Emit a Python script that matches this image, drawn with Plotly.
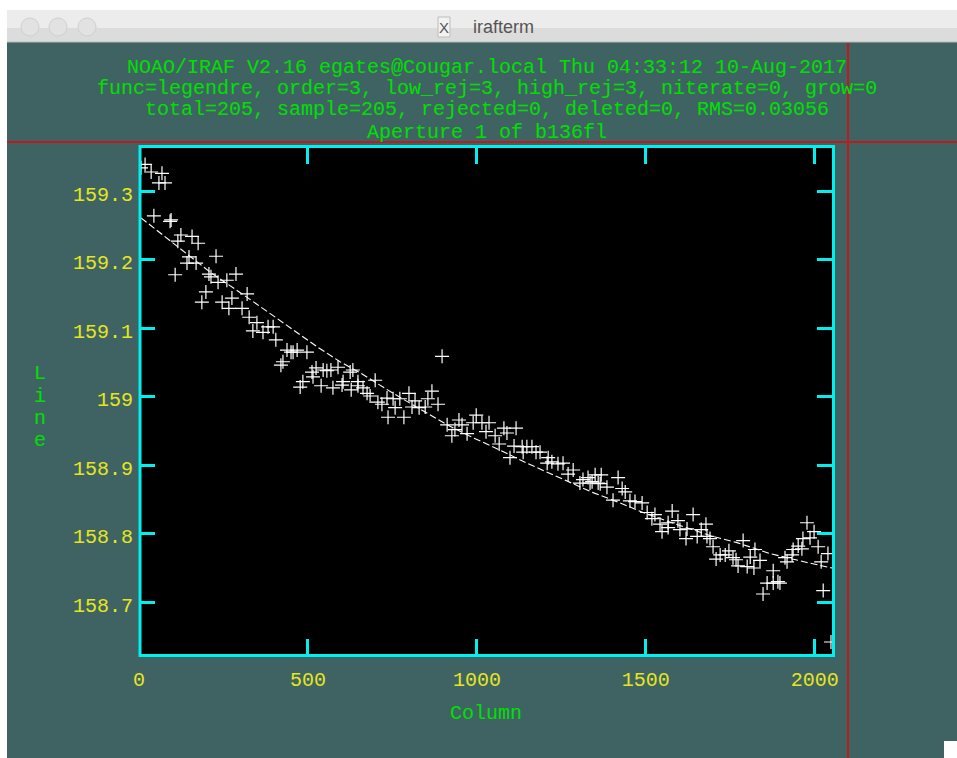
import plotly.graph_objects as go

# ---- data ----
columns = [18,6,36,68,59,77,44,92,95,124,157,175,115,148,228,142,169,107,207,234,260,287,213,198,186,320,275,246,266,305,326,349,337,367,382,397,405,438,450,456,468,497,426,420,524,512,515,545,556,568,589,625,633,485,477,539,574,604,601,648,628,648,663,699,675,684,707,719,734,752,772,799,867,855,817,758,737,784,808,829,847,885,897,912,947,935,926,956,998,989,1015,1036,971,1027,1054,1080,1089,1116,1066,1110,1134,1148,1163,1137,1175,1187,1098,1211,1222,1208,1240,1255,1285,1270,1329,1350,1305,1341,1359,1314,1368,1418,1335,1365,1385,1430,1439,1403,1453,1468,1489,1504,1527,1518,1578,1640,1542,1566,1595,1678,1566,1548,1622,1601,1652,1619,1664,1681,1690,1699,1788,1823,1809,1838,1708,1720,1735,1746,1758,1767,1773,1800,1820,1877,1859,1877,1891,1897,1847,1918,1912,1933,1936,1951,1962,1965,1986,1998,1977,2010,2019,2039,2025,2048]
lines = [159.339,159.334,159.328,159.326,159.312,159.312,159.264,159.256,159.258,159.236,159.234,159.224,159.227,159.204,159.205,159.195,159.195,159.178,159.179,159.167,159.170,159.179,159.175,159.153,159.138,159.150,159.144,159.138,159.129,159.129,159.116,159.108,159.096,159.094,159.102,159.102,159.083,159.068,159.065,159.065,159.068,159.065,159.051,159.046,159.042,159.036,159.029,159.039,159.038,159.039,159.043,159.036,159.039,159.022,159.014,159.016,159.013,159.022,159.017,159.022,159.010,159.016,159.013,159.024,159.005,159.001,158.992,158.989,158.998,158.997,158.997,159.005,159.008,158.997,158.994,158.984,158.970,158.970,158.985,158.984,158.985,158.989,159.059,158.959,158.966,158.952,158.943,158.959,158.973,158.962,158.962,158.962,158.946,158.949,158.943,158.954,158.947,158.954,158.931,158.928,158.927,158.927,158.927,158.919,158.919,158.919,158.911,158.911,158.905,158.903,158.902,158.903,158.893,158.887,158.882,158.886,158.874,158.876,158.874,158.879,158.886,158.882,158.874,158.873,158.868,158.866,158.861,158.849,158.848,158.847,158.845,158.831,158.828,158.822,158.833,158.828,158.814,158.816,158.819,158.814,158.809,158.803,158.807,158.806,158.796,158.793,158.806,158.796,158.793,158.781,158.790,158.777,158.766,158.761,158.763,158.769,158.769,158.775,158.765,158.762,158.753,158.752,158.750,158.746,158.728,158.728,158.730,158.728,158.712,158.759,158.765,158.769,158.777,158.782,158.778,158.793,158.794,158.803,158.816,158.781,158.759,158.771,158.717,158.642]

fit_columns = [6,101,210,320,397,527,595,654,752,852,912,989,1069,1148,1246,1344,1424,1492,1601,1699,1770,1868,1977,2051]
fit_lines = [159.261,159.224,159.182,159.145,159.118,159.073,159.051,159.035,159.005,158.976,158.959,158.940,158.922,158.903,158.882,158.860,158.845,158.831,158.812,158.796,158.787,158.771,158.758,158.750]

x_ticks = [0, 500, 1000, 1500, 2000]
x_labels = ["0", "500", "1000", "1500", "2000"]
y_ticks = [158.7, 158.8, 158.9, 159.0, 159.1, 159.2, 159.3]
y_labels = ["158.7", "158.8", "158.9", "159", "159.1", "159.2", "159.3"]
header_lines = [
    "NOAO/IRAF V2.16 egates@Cougar.local Thu 04:33:12 10-Aug-2017",
    "func=legendre, order=3, low_rej=3, high_rej=3, niterate=0, grow=0",
    "total=205, sample=205, rejected=0, deleted=0, RMS=0.03056",
    "Aperture 1 of b136fl",
]
y_title_letters = ["L", "i", "n", "e"]

# ---- layout constants (pixels) ----
W, H = 957, 758
L, R, T, B = 139, 833, 148, 655
TEAL = "#3f6363"
GREEN = "#00e000"
YELLOW = "#e6e620"
CYAN = "#00f0f0"
RED = "#c01a1a"
MONO = "Liberation Mono, monospace"


def px(v):
    return (v - L) / (R - L)


def py(v):
    return (B - v) / (B - T)


def rect(x0, y0, x1, y1, fill, line=None, lw=0):
    return dict(type="rect", xref="paper", yref="paper", x0=px(x0), x1=px(x1), y0=py(y0), y1=py(y1),
                fillcolor=fill, line=dict(color=line or fill, width=lw))


def seg(x0, y0, x1, y1, color, lw):
    return dict(type="line", xref="paper", yref="paper", x0=px(x0), x1=px(x1), y0=py(y0), y1=py(y1),
                line=dict(color=color, width=lw))


def circle(cx, cy, r):
    return dict(type="circle", xref="paper", yref="paper", x0=px(cx - r), x1=px(cx + r), y0=py(cy + r), y1=py(cy - r),
                fillcolor="#e2e2e2", line=dict(color="#d0d0d0", width=1))


def note(text, x, y, color=GREEN, size=20, family=MONO):
    return dict(text=text, xref="paper", yref="paper", x=px(x), y=py(y), xanchor="center", yanchor="middle",
                showarrow=False, font=dict(family=family, size=size, color=color))


shapes = [
    rect(0, 0, W, 10, "#ffffff"),
    rect(0, 0, 7, H, "#ffffff"),
    rect(7, 10, W, 28, "#ececec"),
    rect(7, 28, W, 42, "#dcdcdc"),
    seg(7, 42, W, 42, "#b8b8b8", 1),
    circle(30, 27, 9), circle(58, 27, 9), circle(87, 27, 9),
    rect(438, 17, 450, 37, "#f2f2f2", "#bdbdbd", 1),
    seg(848, 43, 848, H, RED, 2),
    seg(7, 142, W, 142, RED, 2),
    rect(944, 741, W, H, "#ffffff"),
    dict(type="rect", xref="paper", yref="paper", x0=px(140), x1=px(833.5), y0=py(655.5), y1=py(146.5),
         line=dict(color=CYAN, width=3), fillcolor="rgba(0,0,0,0)"),
]

annotations = [
    note(header_lines[0], 487, 67),
    note(header_lines[1], 487, 88),
    note(header_lines[2], 487, 109),
    note(header_lines[3], 487, 132),
    note("irafterm", 503, 27, "#555555", 18, "Liberation Sans, sans-serif"),
    note("X", 444, 28, "#555555", 15, "Liberation Sans, sans-serif"),
]
for letter, y_pos in zip(y_title_letters, [373, 396, 418, 440]):
    annotations.append(note(letter, 40, y_pos))
for tick, label in zip(y_ticks, y_labels):
    annotations.append(dict(text=label, xref="paper", yref="y", x=px(135), y=tick, xanchor="right",
                            yanchor="middle", yshift=-4, showarrow=False,
                            font=dict(family=MONO, size=20, color=YELLOW)))

fig = go.Figure()
fig.add_trace(go.Scatter(x=fit_columns, y=fit_lines, mode="lines", showlegend=False,
                         line=dict(color="#ffffff", width=1.1, dash="7px,3px")))
fig.add_trace(go.Scatter(x=columns, y=lines, mode="markers", showlegend=False,
                         marker=dict(symbol="cross-thin", size=10, line=dict(color="#ffffff", width=1.2))))

fig.update_layout(
    width=W, height=H, autosize=False,
    margin=dict(l=L, r=W - R, t=T, b=H - B, pad=0),
    paper_bgcolor=TEAL, plot_bgcolor="#000000",
    shapes=shapes, annotations=annotations, showlegend=False,
    font=dict(family=MONO),
)
axis_style = dict(showgrid=False, zeroline=False, showline=False,
                  mirror="ticks", ticks="inside", ticklen=16, tickwidth=3, tickcolor=CYAN,
                  tickfont=dict(family=MONO, size=20, color=YELLOW))
fig.update_xaxes(range=[0, 2054], tickvals=x_ticks, ticktext=x_labels, ticklabelstandoff=10,
                 title=dict(text="Column", standoff=13, font=dict(family=MONO, size=20, color=GREEN)),
                 **axis_style)
fig.update_yaxes(range=[158.623, 159.363], tickvals=y_ticks, showticklabels=False, **axis_style)

fig.write_html("out.html", config={"displayModeBar": False},
               post_script="document.body.style.margin='0';document.documentElement.style.overflow='hidden';")
